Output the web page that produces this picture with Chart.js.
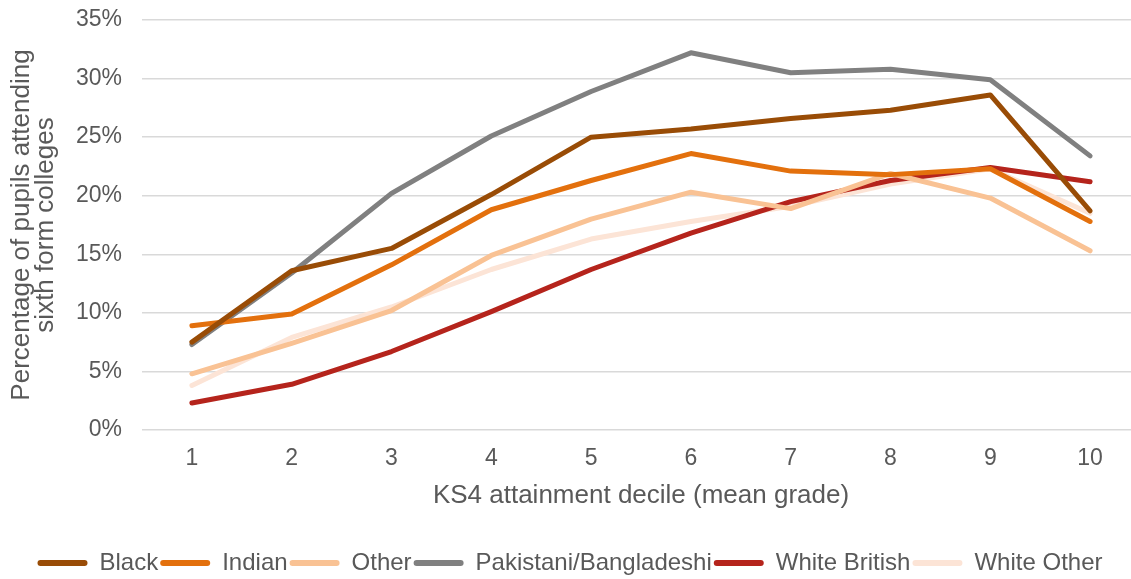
<!DOCTYPE html>
<html>
<head>
<meta charset="utf-8">
<script src="https://cdn.jsdelivr.net/npm/chart.js@4"></script>
<style>
  html, body { margin: 0; padding: 0; background: #fff; overflow: hidden; }
  #wrap { width: 1140px; height: 579px; position: relative; }
</style>
</head>
<body>
<div id="wrap"><canvas id="chart"></canvas></div>
<script>
// 数据
const deciles = ['1', '2', '3', '4', '5', '6', '7', '8', '9', '10'];
const black = [7.5, 13.6, 15.5, 20.1, 25.0, 25.7, 26.6, 27.3, 28.6, 18.7];
const indian = [8.9, 9.9, 14.1, 18.8, 21.3, 23.6, 22.1, 21.8, 22.3, 17.8];
const other = [4.8, 7.4, 10.2, 14.9, 18.0, 20.3, 18.9, 21.9, 19.8, 15.3];
const pakistani = [7.3, 13.4, 20.2, 25.1, 28.9, 32.2, 30.5, 30.8, 29.9, 23.4];
const whiteBritish = [2.3, 3.9, 6.7, 10.1, 13.7, 16.8, 19.5, 21.3, 22.4, 21.2];
const whiteOther = [3.8, 7.9, 10.5, 13.7, 16.3, 17.8, 19.1, 21.0, 22.3, 18.5];
const yTicks = [0, 5, 10, 15, 20, 25, 30, 35];

const textColor = '#595959';
const font = "'Liberation Sans', Arial, sans-serif";

function series(label, data, color) {
    return {
        label: label,
        data: data,
        borderColor: color,
        backgroundColor: color,
        borderWidth: 5,
        pointRadius: 0,
        tension: 0,
        borderCapStyle: 'round',
        borderJoinStyle: 'round'
    };
}

const ctx = document.getElementById('chart').getContext('2d');
new Chart(ctx, {
    type: 'line',
    data: {
        labels: deciles,
        datasets: [
            series('Black', black, '#994C06'),
            series('Indian', indian, '#E3700D'),
            series('Other', other, '#F9C294'),
            series('Pakistani/Bangladeshi', pakistani, '#808080'),
            series('White British', whiteBritish, '#B5241C'),
            series('White Other', whiteOther, '#FCE4D6')
        ]
    },
    options: {
        responsive: true,
        maintainAspectRatio: false,
        animation: false,
        // 底部负边距：图例略微下移
        layout: { padding: { top: 0, right: 0, left: 0, bottom: -6 } },
        scales: {
            x: {
                offset: true,
                grid: { display: false, drawTicks: false },
                border: { display: false },
                ticks: { color: textColor, font: { family: font, size: 23 }, padding: 15 },
                title: {
                    display: true,
                    text: 'KS4 attainment decile (mean grade)',
                    color: textColor,
                    font: { family: font, size: 26 },
                    padding: { top: 0, bottom: 38 }
                },
                afterFit: function(scale) { scale.height = 119; }
            },
            y: {
                min: 0,
                max: 35,
                afterBuildTicks: function(scale) {
                    scale.ticks = yTicks.map(v => ({ value: v }));
                },
                grid: { color: '#D9D9D9', lineWidth: 1.5, drawTicks: false },
                border: { display: false },
                ticks: {
                    color: textColor,
                    font: { family: font, size: 23, lineHeight: 0 },
                    padding: 20,
                    callback: v => v + '%'
                },
                title: {
                    display: true,
                    text: ['Percentage of pupils attending', 'sixth form colleges'],
                    color: textColor,
                    font: { family: font, size: 26, lineHeight: 0.92 },
                    padding: { top: 10, bottom: 0 }
                },
                afterFit: function(scale) { scale.width = 142; }
            }
        },
        plugins: {
            legend: {
                position: 'bottom',
                labels: {
                    color: textColor,
                    font: { family: font, size: 24 },
                    boxWidth: 50,
                    boxHeight: 6,
                    padding: 2,
                    useBorderRadius: true,
                    borderRadius: 3,
                    generateLabels: function(chart) {
                        const items = Chart.defaults.plugins.legend.labels.generateLabels(chart);
                        items.forEach(item => { item.lineWidth = 0; });
                        return items;
                    }
                }
            },
            tooltip: { enabled: false }
        }
    }
});
</script>
</body>
</html>
